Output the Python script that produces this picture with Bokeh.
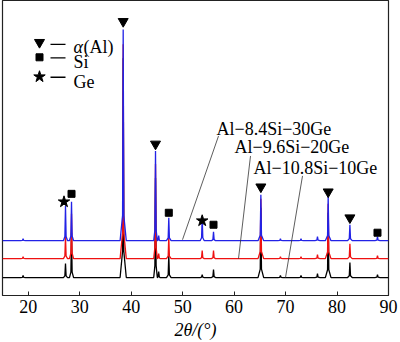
from bokeh.plotting import figure
from bokeh.models import Range1d, FixedTicker
from bokeh.core.properties import value
from bokeh.embed import file_html
from bokeh.resources import INLINE

# ---- data ----
peak_2theta = [19.0, 27.24, 28.41, 38.45, 44.73, 45.35, 47.31, 53.8, 56.0, 65.2, 69.0, 73.0, 76.2, 78.28, 82.5, 87.86]
peak_halfbase = [0.5, 0.4, 0.4, 0.6, 0.35, 0.25, 0.45, 0.4, 0.4, 0.55, 0.5, 0.5, 0.5, 0.55, 0.45, 0.5]
h_30ge = [2, 35, 39, 212, 90, 5, 23, 24, 9, 46, 2, 2, 4, 44, 16, 4]     # Al-8.4Si-30Ge (blue)
h_20ge = [2, 22, 45, 215, 95, 5, 22, 8, 8, 60, 2, 2, 4, 55, 15, 3]      # Al-9.6Si-20Ge (red)
h_10ge = [2, 14, 45, 220, 100, 6, 22, 3, 8, 70, 2, 2, 4, 65, 15, 3]     # Al-10.8Si-10Ge (black)
offset_30ge, offset_20ge, offset_10ge = 55, 37, 18

al_2theta = [38.45, 44.73, 65.2, 78.28, 82.5]
al_mark_y = [275, 152, 109, 104, 78]
si_2theta = [28.41, 47.31, 56.0, 87.86]
si_mark_y = [102, 83, 71, 63]
ge_2theta = [26.95, 53.8]
ge_mark_y = [94, 75]

x_ticks = [20, 30, 40, 50, 60, 70, 80, 90]
series_names = ["Al\u22128.4Si\u221230Ge", "Al\u22129.6Si\u221220Ge", "Al\u221210.8Si\u221210Ge"]

X0, X1 = 15, 90
QFONT = "'Liberation Serif'"

p = figure(width=400, height=342, output_backend="svg", toolbar_location=None,
           x_range=Range1d(X0, X1), y_range=Range1d(0, 296),
           min_border_left=2, min_border_right=12, min_border_top=0, min_border_bottom=45)
p.grid.visible = False
p.yaxis.visible = False
p.outline_line_color = "#222222"
p.outline_line_width = 1.2
p.background_fill_color = "white"
p.border_fill_color = "white"

ax = p.xaxis[0]
ax.ticker = FixedTicker(ticks=x_ticks)
ax.major_tick_in = 4
ax.major_tick_out = 0
ax.minor_tick_line_color = None
ax.axis_line_color = "#222222"
ax.axis_line_width = 1.2
ax.major_tick_line_color = "#222222"
ax.major_label_text_font = QFONT
ax.major_label_text_font_size = "18px"
ax.major_label_text_color = "black"
ax.major_label_standoff = 4
ax.axis_label = "2\u03b8/(\u00b0)"
ax.axis_label_text_font = QFONT
ax.axis_label_text_font_size = "18px"
ax.axis_label_text_font_style = "italic"
ax.axis_label_text_color = "black"
ax.axis_label_standoff = 4


# helpers for annotation placement (pixel -> data)
def px2x(px):
    return X0 + (px - 2) / 386 * (X1 - X0)


def px2y(py):
    return 297 - py


def profile(heights, base):
    xs, ys = [X0], [base]
    for c, w, h in zip(peak_2theta, peak_halfbase, heights):
        xs += [c - w, c - 0.12, c, c + 0.12, c + w]
        ys += [base, base + 0.12 * h, base + h, base + 0.12 * h, base]
    xs.append(X1)
    ys.append(base)
    return xs, ys


for hs, base, col in [(h_10ge, offset_10ge, "black"),
                      (h_20ge, offset_20ge, "#ee1111"),
                      (h_30ge, offset_30ge, "#2222e6")]:
    xs, ys = profile(hs, base)
    p.line(xs, ys, line_color=col, line_width=1.3)

# phase markers
p.scatter(al_2theta, al_mark_y, marker="inverted_triangle", size=10, color="black")
p.scatter(si_2theta, si_mark_y, marker="square", size=7, color="black")
p.scatter(ge_2theta, ge_mark_y, marker="star", size=12, color="black")

# legend (drawn)
p.scatter([px2x(39)], [px2y(43)], marker="inverted_triangle", size=10, color="black")
p.scatter([px2x(39)], [px2y(58)], marker="square", size=7, color="black")
p.scatter([px2x(39)], [px2y(77.5)], marker="star", size=12, color="black")
p.segment(x0=[px2x(50)] * 3, x1=[px2x(65)] * 3,
          y0=[px2y(45), px2y(58.5), px2y(78)], y1=[px2y(45), px2y(58.5), px2y(78)],
          line_color="black", line_width=1.3)
p.text([px2x(73)], [px2y(48)], text=["\u03b1"], text_font=value(QFONT), text_font_size="18px",
       text_font_style="italic", text_baseline="alphabetic", text_align="left")
p.text([px2x(83)], [px2y(48)], text=["(Al)"], text_font=value(QFONT), text_font_size="18px",
       text_baseline="alphabetic", text_align="left")
p.text([px2x(73), px2x(73)], [px2y(63), px2y(83)], text=["Si", "Ge"], text_font=value(QFONT),
       text_font_size="18px", text_baseline="alphabetic", text_align="left")

# series labels with leader lines
p.text([px2x(216), px2x(234), px2x(253)], [px2y(130), px2y(148), px2y(169)], text=series_names,
       text_font=value(QFONT), text_font_size="18px", text_baseline="alphabetic", text_align="left")
p.segment(x0=[px2x(218), px2x(250), px2x(302)], y0=[px2y(137), px2y(157), px2y(177)],
          x1=[px2x(182), px2x(238), px2x(285)], y1=[px2y(241), px2y(260), px2y(279)],
          line_color="#333333", line_width=0.8)

open("out.html", "w").write(file_html(p, INLINE))
